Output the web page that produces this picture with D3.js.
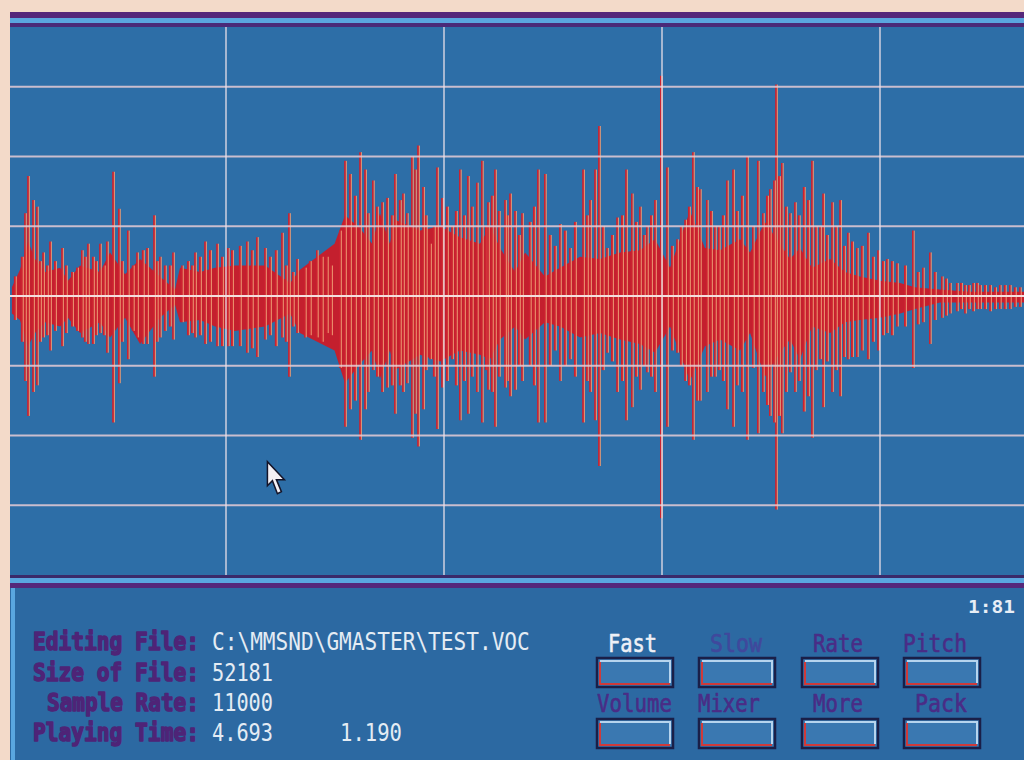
<!DOCTYPE html>
<html>
<head>
<meta charset="utf-8">
<script src="https://cdn.jsdelivr.net/npm/d3@7"></script>
<style>
  body { margin: 0; background: #f3dac9; }
  svg { display: block; }
</style>
</head>
<body>
<div id="chart-area"></div>
<script>
// ---- data ----
var playingTime = 4.693;      // seconds
var cursorTime = 1.190;
var cursorLevel = -76;
var gridTimes = [1, 2, 3, 4];
var gridLevels = [-96, -64, -32, 32, 64, 96];

// dense part of the waveform (time s, upper level, lower level)
var bodyTime = [0.018, 0.055, 0.092, 0.124, 0.170, 0.239, 0.275, 0.330, 0.422, 0.468,
  0.537, 0.606, 0.697, 0.766, 0.789, 0.881, 0.950, 1.041, 1.179, 1.294,
  1.339, 1.498, 1.546, 1.615, 1.670, 1.706, 1.752, 1.775, 1.890, 1.982,
  2.073, 2.165, 2.211, 2.257, 2.326, 2.372, 2.463, 2.532, 2.624, 2.716,
  2.807, 2.899, 2.968, 3.037, 3.128, 3.197, 3.266, 3.358, 3.404, 3.472,
  3.541, 3.587, 3.633, 3.688, 3.771, 3.839, 3.908, 4.000, 4.092, 4.161,
  4.275, 4.413, 4.693];
var bodyUpper = [4, 12, 25, 17, 11, 13, 7, 14, 11, 20,
  10, 17, 9, 3, 13, 11, 13, 14, 14, 6,
  12, 24, 37, 31, 24, 38, 24, 35, 30, 32,
  27, 24, 32, 22, 11, 20, 9, 13, 18, 17,
  20, 21, 26, 13, 39, 22, 21, 26, 20, 34,
  24, 17, 22, 13, 17, 11, 9, 7, 6, 4,
  3, 2, 2];
var bodyLower = [-8, -11, -23, -17, -12, -14, -10, -17, -12, -19,
  -10, -22, -10, -4, -12, -11, -14, -16, -14, -8,
  -17, -25, -40, -31, -25, -38, -25, -34, -27, -30,
  -25, -27, -29, -20, -14, -20, -12, -14, -19, -17,
  -20, -22, -26, -14, -39, -23, -20, -25, -17, -37,
  -26, -20, -29, -14, -17, -12, -11, -10, -8, -6,
  -3, -3, -3];

// tall single peaks
var spikeTime = [0.078, 0.092, 0.115, 0.133, 0.161, 0.193, 0.248, 0.339, 0.367, 0.422,
  0.454, 0.482, 0.509, 0.550, 0.592, 0.638, 0.670, 0.697, 0.757, 0.798,
  0.858, 0.904, 0.959, 1.009, 1.096, 1.142, 1.179, 1.257, 1.289, 1.326,
  1.362, 1.417, 1.463, 1.523, 1.546, 1.569, 1.615, 1.638, 1.651, 1.674,
  1.716, 1.739, 1.775, 1.812, 1.830, 1.853, 1.867, 1.881, 1.904, 1.936,
  1.968, 1.991, 2.037, 2.073, 2.110, 2.151, 2.174, 2.202, 2.234, 2.280,
  2.303, 2.326, 2.358, 2.431, 2.463, 2.532, 2.578, 2.638, 2.670, 2.693,
  2.711, 2.748, 2.794, 2.835, 2.862, 2.899, 2.931, 2.968, 2.995, 3.023,
  3.069, 3.106, 3.142, 3.174, 3.206, 3.243, 3.298, 3.326, 3.390, 3.417,
  3.440, 3.463, 3.495, 3.514, 3.523, 3.550, 3.587, 3.610, 3.688, 3.725,
  3.739, 3.780, 3.817, 3.853, 3.894, 3.945, 3.991, 4.032, 4.078, 4.151,
  4.197, 4.229, 4.284, 4.321, 4.353, 4.390, 4.427, 4.459, 4.505, 4.550,
  4.596, 4.642];
var spikeUp = [38, 55, 44, 41, 20, 25, 22, 21, 24, 24,
  25, 57, 40, 30, 20, 22, 37, 18, 20, 14,
  20, 25, 24, 22, 25, 27, 22, 29, 38, 17,
  13, 21, 18, 30, 62, 56, 66, 58, 38, 53,
  43, 45, 56, 47, 38, 64, 58, 69, 50, 24,
  59, 45, 32, 58, 55, 52, 62, 43, 58, 44,
  47, 39, 38, 58, 56, 33, 22, 58, 44, 58,
  78, 22, 36, 58, 47, 41, 32, 44, 101, 59,
  26, 35, 66, 49, 44, 32, 53, 58, 64, 32,
  62, 38, 49, 53, 97, 61, 38, 43, 62, 32,
  47, 43, 44, 29, 22, 29, 21, 17, 15, 30,
  13, 20, 9, 6, 6, 5, 6, 5, 5, 5,
  5, 4];
var spikeDown = [-39, -55, -44, -41, -19, -25, -23, -19, -22, -17,
  -26, -58, -40, -29, -19, -22, -37, -19, -20, -12,
  -19, -22, -23, -23, -26, -28, -20, -19, -37, -17,
  -19, -19, -17, -33, -60, -52, -66, -52, -44, -34,
  -44, -42, -54, -44, -40, -65, -54, -69, -52, -29,
  -61, -42, -29, -57, -54, -44, -58, -43, -60, -42,
  -46, -43, -39, -58, -58, -39, -29, -58, -44, -57,
  -78, -26, -44, -57, -51, -43, -35, -44, -102, -60,
  -26, -39, -66, -48, -44, -37, -52, -60, -66, -33,
  -63, -44, -55, -58, -98, -63, -35, -44, -65, -29,
  -51, -44, -46, -29, -28, -29, -25, -17, -14, -33,
  -12, -22, -10, -8, -7, -8, -7, -6, -7, -6,
  -6, -5];

// smaller peaks in between
var minorTime = [0.032, 0.064, 0.147, 0.179, 0.216, 0.266, 0.294, 0.317, 0.353, 0.390,
  0.404, 0.440, 0.523, 0.573, 0.619, 0.683, 0.720, 0.743, 0.826, 0.844,
  0.881, 0.927, 0.982, 1.028, 1.064, 1.119, 1.202, 1.229, 1.275, 1.307,
  1.385, 1.440, 1.482, 1.592, 1.693, 1.761, 1.798, 1.917, 1.954, 2.014,
  2.055, 2.092, 2.128, 2.193, 2.220, 2.252, 2.289, 2.344, 2.394, 2.413,
  2.486, 2.509, 2.555, 2.601, 2.656, 2.729, 2.771, 2.817, 2.881, 2.917,
  2.950, 3.046, 3.087, 3.124, 3.161, 3.225, 3.261, 3.280, 3.344, 3.367,
  3.482, 3.537, 3.569, 3.628, 3.651, 3.670, 3.706, 3.757, 3.798, 3.835,
  3.872, 3.917, 3.968, 4.014, 4.055, 4.115, 4.174, 4.252, 4.303, 4.372,
  4.408, 4.445, 4.482, 4.528, 4.573, 4.619];
var minorUp = [9, 18, 16, 14, 16, 14, 11, 13, 18, 18,
  16, 14, 16, 14, 21, 16, 14, 14, 16, 14,
  18, 21, 18, 21, 23, 21, 18, 21, 14, 11,
  16, 18, 14, 46, 41, 37, 44, 37, 32, 41,
  39, 37, 41, 32, 46, 39, 37, 28, 34, 41,
  28, 23, 30, 34, 37, 32, 28, 37, 34, 28,
  37, 23, 32, 41, 50, 39, 32, 37, 39, 46,
  46, 55, 41, 37, 50, 44, 32, 28, 32, 23,
  25, 23, 18, 16, 16, 14, 11, 11, 8, 6,
  5, 6, 5, 4, 5, 4];
var minorDown = [-11, -21, -21, -18, -16, -17, -14, -16, -21, -22,
  -18, -18, -21, -16, -22, -21, -16, -14, -18, -17,
  -18, -21, -23, -23, -23, -24, -18, -23, -21, -14,
  -18, -21, -18, -48, -37, -41, -41, -34, -37, -39,
  -41, -39, -37, -34, -44, -37, -39, -32, -32, -41,
  -32, -25, -32, -37, -39, -34, -30, -39, -37, -32,
  -37, -25, -32, -41, -48, -37, -34, -39, -41, -44,
  -50, -55, -44, -39, -53, -46, -34, -30, -34, -28,
  -28, -25, -21, -18, -18, -14, -13, -11, -9, -6,
  -6, -6, -6, -6, -6, -5];

// info panel
var infoLabels = ["Editing File:", "Size of File:", "Sample Rate:", "Playing Time:"];
var infoValues = ["C:\\MMSND\\GMASTER\\TEST.VOC", "52181", "11000", "4.693"];
var buttonRow1 = ["Fast", "Slow", "Rate", "Pitch"];
var buttonRow2 = ["Volume", "Mixer", "More", "Pack"];

var width = 1024;
var height = 760;

var svg = d3.select("#chart-area").append("svg")
  .attr("width", width)
  .attr("height", height);

// screen background
svg.append("rect")
  .attr("x", 10).attr("y", 12)
  .attr("width", width - 10).attr("height", height - 12)
  .attr("fill", "#2d6ea7");

// top frame bands
svg.append("rect").attr("x", 10).attr("y", 12).attr("width", width).attr("height", 6).attr("fill", "#55277a");
svg.append("rect").attr("x", 10).attr("y", 18).attr("width", width).attr("height", 5).attr("fill", "#5aa6df");
svg.append("rect").attr("x", 10).attr("y", 23).attr("width", width).attr("height", 4).attr("fill", "#4a2a78");

// X Scale - time in seconds
var x = d3.scaleLinear()
  .domain([0, playingTime])
  .range([8, 8 + playingTime * 218]);

// Y Scale - 8 bit sample level
var y = d3.scaleLinear()
  .domain([-128, 128])
  .range([575, 17]);

svg.append("clipPath").attr("id", "plot-clip")
  .append("rect")
    .attr("x", 10).attr("y", 27)
    .attr("width", width - 10).attr("height", 548);

var g = svg.append("g").attr("clip-path", "url(#plot-clip)");

function toPeaks(times, ups, downs) {
  return times.map(function(t, i) { return { t: t, up: ups[i], down: downs[i] }; });
}
var spikes = toPeaks(spikeTime, spikeUp, spikeDown);
var minors = toPeaks(minorTime, minorUp, minorDown);

// dense body of the wave
var body = bodyTime.map(function(t, i) {
  return { t: t, up: bodyUpper[i], low: bodyLower[i] };
});

var area = d3.area()
  .x(function(d) { return x(d.t); })
  .y0(function(d) { return y(d.low); })
  .y1(function(d) { return y(d.up); })
  .curve(d3.curveLinear);

g.append("path")
  .datum(body)
  .attr("d", area)
  .attr("fill", "#c41f2e");

// peaks: red core with a pale orange fringe like on the CRT
function drawPeaks(data, cls, core) {
  g.selectAll("." + cls + "-core")
    .data(data)
    .enter()
    .append("line")
      .attr("class", cls + "-core")
      .attr("x1", function(d) { return x(d.t); })
      .attr("x2", function(d) { return x(d.t); })
      .attr("y1", function(d) { return y(d.up); })
      .attr("y2", function(d) { return y(d.down); })
      .attr("stroke", "#cc2230")
      .attr("stroke-width", core);

  g.selectAll("." + cls + "-glow")
    .data(data)
    .enter()
    .append("line")
      .attr("class", cls + "-glow")
      .attr("x1", function(d) { return x(d.t) + 1.3; })
      .attr("x2", function(d) { return x(d.t) + 1.3; })
      .attr("y1", function(d) { return y(d.up); })
      .attr("y2", function(d) { return y(d.down); })
      .attr("stroke", "#ee9a72")
      .attr("stroke-width", 1);
}

drawPeaks(minors, "minor", 2.2);
drawPeaks(spikes, "spike", 1.8);

// grid on top, the screen draws it over the wave
g.selectAll(".hgrid")
  .data(gridLevels)
  .enter()
  .append("line")
    .attr("class", "hgrid")
    .attr("x1", 10).attr("x2", width)
    .attr("y1", function(d) { return y(d); })
    .attr("y2", function(d) { return y(d); })
    .attr("stroke", "#e6cdd6")
    .attr("stroke-width", 2)
    .attr("opacity", 0.85);

g.selectAll(".vgrid")
  .data(gridTimes)
  .enter()
  .append("line")
    .attr("class", "vgrid")
    .attr("x1", function(d) { return x(d); })
    .attr("x2", function(d) { return x(d); })
    .attr("y1", 27).attr("y2", 575)
    .attr("stroke", "#ece2ea")
    .attr("stroke-width", 1.5)
    .attr("opacity", 0.85);

// zero line
g.append("line")
  .attr("x1", 10).attr("x2", width)
  .attr("y1", y(0)).attr("y2", y(0))
  .attr("stroke", "#f4dede")
  .attr("stroke-width", 2);

// mouse cursor
svg.append("path")
  .attr("transform", "translate(" + x(cursorTime) + "," + y(cursorLevel) + ")")
  .attr("d", "M0,0 L0,24 L5,19 L10,32 L14,30 L9,18 L17,18 Z")
  .attr("fill", "#f4f0f4")
  .attr("stroke", "#141428")
  .attr("stroke-width", 1.5);

// separator between plot and panel
svg.append("rect").attr("x", 10).attr("y", 575).attr("width", width).attr("height", 3).attr("fill", "#3a2a6a");
svg.append("rect").attr("x", 10).attr("y", 578).attr("width", width).attr("height", 5).attr("fill", "#5aa6df");
svg.append("rect").attr("x", 10).attr("y", 583).attr("width", width).attr("height", 5).attr("fill", "#55277a");

// info panel
var panel = svg.append("g");

panel.append("rect")
  .attr("x", 10).attr("y", 588)
  .attr("width", width - 10).attr("height", height - 588)
  .attr("fill", "#2c69a2");

panel.append("rect")
  .attr("x", 11).attr("y", 588)
  .attr("width", 4).attr("height", height - 588)
  .attr("fill", "#5aa6df");

// narrow screen font: squeeze a mono font to the width seen on screen
function screenText(parent, str, left, base, w, size, weight, fill, thick) {
  var holder = parent.append("g");
  var t = holder.append("text")
    .attr("x", 0).attr("y", 0)
    .attr("font-family", "DejaVu Sans Mono, monospace")
    .attr("font-weight", weight)
    .attr("font-size", size + "px")
    .attr("fill", fill)
    .text(str);
  if (thick) {
    t.attr("stroke", fill).attr("stroke-width", thick).attr("stroke-linejoin", "round");
  }
  var natural = t.node().getComputedTextLength();
  holder.attr("transform", "translate(" + left + "," + base + ") scale(" + (w / natural) + ",1)");
  return holder;
}

var labelRight = 199;
var baselines = [650, 681, 711, 741];
var labelWidths = [166, 166, 152, 166];
var valueWidths = [318, 61, 61, 61];

infoLabels.forEach(function(d, i) {
  screenText(panel, d, labelRight - labelWidths[i], baselines[i], labelWidths[i], 25, "bold", "#4e2477", 1.6);
});
infoValues.forEach(function(d, i) {
  screenText(panel, d, 212, baselines[i], valueWidths[i], 24, "normal", "#e4ecf4");
});
screenText(panel, cursorTime.toFixed(3), 340, 741, 62, 24, "normal", "#e4ecf4");
screenText(panel, "1:81", 968, 613, 47, 17, "bold", "#e8eef6");

// buttons
var buttonX = [597, 699, 802, 904];
var buttonW = 76;
var rows = [
  { names: buttonRow1, labelY: 652, boxY: 658, widths: [49, 52, 50, 64], offsets: [11, 11, 11, -1] },
  { names: buttonRow2, labelY: 712, boxY: 719, widths: [75, 62, 50, 52], offsets: [0, -1, 11, 11] }
];

rows.forEach(function(row, r) {
  row.names.forEach(function(name, i) {
    var bx = buttonX[i];
    var col = (r === 0 && i === 0) ? "#eef0f6" : (r === 0 && i === 1 ? "#40489c" : "#4a2c86");
    screenText(panel, name, bx + row.offsets[i], row.labelY, row.widths[i], 24, "normal", col, 0.6);

    var bh = 29;
    panel.append("rect")
      .attr("x", bx).attr("y", row.boxY)
      .attr("width", buttonW).attr("height", bh)
      .attr("fill", "#3a78b1")
      .attr("stroke", "#1a1f48")
      .attr("stroke-width", 2.5);
    // bevel
    panel.append("path")
      .attr("d", "M" + (bx + 3) + "," + (row.boxY + 3) + " H" + (bx + buttonW - 3) + " V" + (row.boxY + bh - 4))
      .attr("fill", "none")
      .attr("stroke", "#b6d4ee")
      .attr("stroke-width", 2);
    panel.append("path")
      .attr("d", "M" + (bx + 3) + "," + (row.boxY + 4) + " V" + (row.boxY + bh - 3) + " H" + (bx + buttonW - 3))
      .attr("fill", "none")
      .attr("stroke", "#cf3a3a")
      .attr("stroke-width", 2);
  });
});
</script>
</body>
</html>
